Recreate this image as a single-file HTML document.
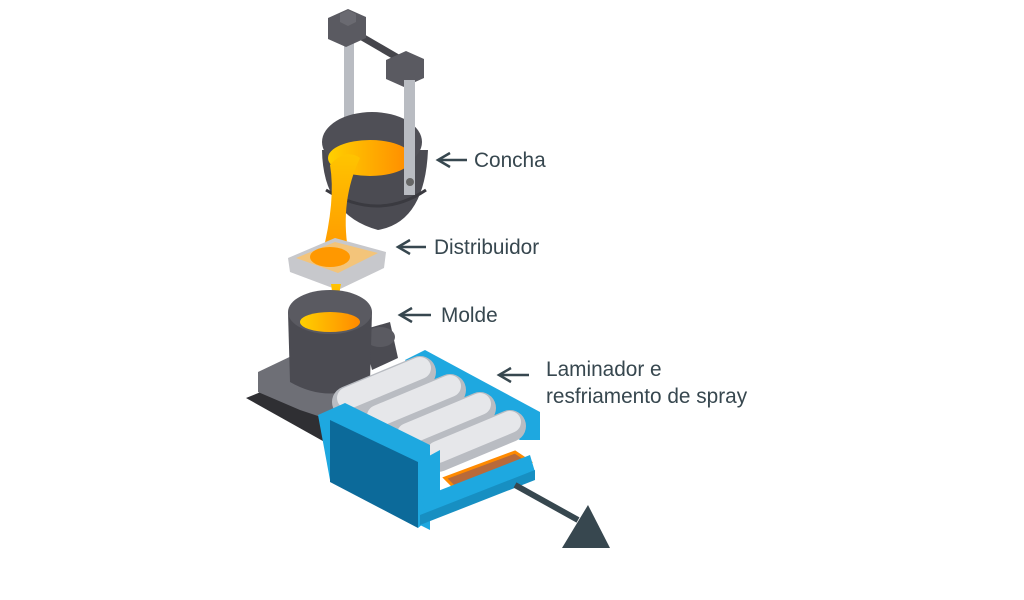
<!DOCTYPE html>
<html><head><style>
body{margin:0;background:#fff;width:1024px;height:600px;overflow:hidden}
svg{position:absolute;left:0;top:0}
.t{font-family:"Liberation Sans",sans-serif;font-size:20.8px;fill:#37474f}
</style></head><body>
<svg width="1024" height="600" viewBox="0 0 1024 600">
<defs>
<linearGradient id="m" x1="0" y1="0" x2="1" y2="0"><stop offset="0" stop-color="#ffd000"/><stop offset="1" stop-color="#ff8a00"/></linearGradient>
<linearGradient id="mv" x1="0" y1="0" x2="0" y2="1"><stop offset="0" stop-color="#ffc400"/><stop offset="1" stop-color="#ff9800"/></linearGradient>
</defs>
<!-- hanger -->
<rect x="344" y="35" width="10" height="90" fill="#b9bcc2"/>
<line x1="350" y1="30" x2="405" y2="62" stroke="#45454b" stroke-width="7"/>
<path d="M328,18 L348,9 L366,17 L366,38 L346,47 L328,39Z" fill="#5a5a61"/>
<path d="M340,14 L348,10 L356,14 L356,22 L348,26 L340,22Z" fill="#6a6a71"/>
<path d="M386,60 L406,51 L424,59 L424,78 L404,87 L386,79Z" fill="#5a5a61"/>
<!-- ladle -->
<path d="M322,150 Q323,215 378,230 Q425,222 428,150Z" fill="#4b4b52"/>
<path d="M326,190 Q378,222 426,190" stroke="#3a3a40" stroke-width="3" fill="none"/>
<ellipse cx="372" cy="142" rx="50" ry="30" fill="#4f4f56"/>
<ellipse cx="370" cy="158" rx="42" ry="18" fill="url(#m)"/>
<rect x="404" y="80" width="11" height="115" fill="#b9bcc2"/>
<circle cx="410" cy="182" r="4" fill="#666"/>
<!-- stream -->
<path d="M330,165 Q345,148 360,158 Q340,200 348,250 L322,255 Q336,200 330,165Z" fill="url(#mv)"/>
<!-- tundish -->
<path d="M288,258 L335,238 L386,252 L384,268 L338,290 L290,272Z" fill="#c7c8cc"/>
<path d="M296,258 L335,242 L378,253 L338,273Z" fill="#f3c47a"/>
<ellipse cx="330" cy="257" rx="20" ry="10" fill="#ff9800"/>
<path d="M331,284 L341,284 Q337,300 344,315 L328,318 Q334,300 331,284Z" fill="url(#mv)"/>
<!-- base -->
<path d="M246,398 L290,380 L345,410 L330,445 Z" fill="#2f2f33"/>
<path d="M258,372 L300,352 L352,380 L345,425 L300,410 L258,392Z" fill="#6e6f76"/>
<!-- mold -->
<path d="M362,330 L390,322 L398,358 L372,370Z" fill="#4b4b52"/>
<ellipse cx="380" cy="337" rx="15" ry="10" fill="#5a5a61"/>
<path d="M288,312 L290,382 Q330,405 370,382 L372,312Z" fill="#4b4b52"/>
<ellipse cx="330" cy="312" rx="42" ry="22" fill="#5a5a61"/>
<ellipse cx="330" cy="322" rx="30" ry="10" fill="url(#m)"/>
<!-- roller unit: back rim -->
<path d="M405,360 L425,350 L540,412 L540,440 L520,440 L418,380Z" fill="#1ea8e0"/>
<!-- rollers -->
<g stroke-linecap="round">
<line x1="348" y1="402" x2="420" y2="372" stroke="#b9bcc2" stroke-width="32"/>
<line x1="348" y1="398" x2="420" y2="368" stroke="#e6e7ea" stroke-width="22"/>
<line x1="378" y1="420" x2="450" y2="390" stroke="#b9bcc2" stroke-width="32"/>
<line x1="378" y1="416" x2="450" y2="386" stroke="#e6e7ea" stroke-width="22"/>
<line x1="408" y1="438" x2="480" y2="408" stroke="#b9bcc2" stroke-width="32"/>
<line x1="408" y1="434" x2="480" y2="404" stroke="#e6e7ea" stroke-width="22"/>
<line x1="438" y1="456" x2="510" y2="426" stroke="#b9bcc2" stroke-width="32"/>
<line x1="438" y1="452" x2="510" y2="422" stroke="#e6e7ea" stroke-width="22"/>
</g>
<!-- slab -->
<path d="M445,478 L515,452 L530,462 L462,495Z" fill="#b86a3a" stroke="#ff8a00" stroke-width="3"/>
<line x1="440" y1="505" x2="470" y2="493" stroke="#ddd" stroke-width="14" stroke-linecap="round"/>
<!-- front frame -->
<path d="M318,415 L345,403 L430,445 L430,530 L330,480Z" fill="#1ea8e0"/>
<path d="M330,420 L418,462 L418,528 L330,482Z" fill="#0c6a9a"/>
<path d="M418,462 L440,450 L440,510 L418,528Z" fill="#1ea8e0"/>
<path d="M420,498 L530,455 L535,472 L428,515Z" fill="#1ea8e0"/>
<path d="M420,515 L535,470 L535,480 L420,525Z" fill="#178fc2"/>
<!-- output arrow -->
<line x1="515" y1="485" x2="578" y2="520" stroke="#37474f" stroke-width="6"/>
<path d="M562,548 L610,548 L588,505Z" fill="#37474f"/>
<!-- labels -->
<g stroke="#37474f" stroke-width="2.5" fill="none">
<line x1="438" y1="160" x2="467" y2="160"/><polyline points="450,153 438,160 450,167"/>
<line x1="398" y1="247" x2="426" y2="247"/><polyline points="410,240 398,247 410,254"/>
<line x1="400" y1="315" x2="431" y2="315"/><polyline points="412,308 400,315 412,322"/>
<line x1="499" y1="375" x2="529" y2="375"/><polyline points="511,368 499,375 511,382"/>
</g>
<text class="t" x="474" y="167">Concha</text>
<text class="t" x="434" y="254">Distribuidor</text>
<text class="t" x="441" y="322">Molde</text>
<text class="t" x="546" y="376">Laminador e</text>
<text class="t" x="546" y="403">resfriamento de spray</text>
</svg>
</body></html>
